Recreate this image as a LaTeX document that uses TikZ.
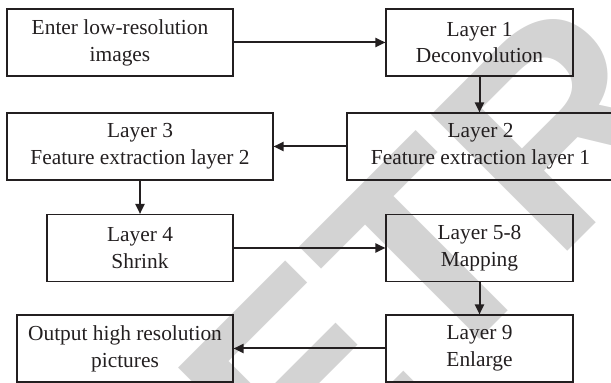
\documentclass[tikz,border=0pt]{standalone}
\usepackage{fontspec}
\setmainfont{Liberation Serif}
\newfontfamily\wmfont{Liberation Sans}
\usetikzlibrary{arrows.meta}
\definecolor{wmgray}{HTML}{D3D3D3}
\definecolor{linegray}{HTML}{231F20}

\begin{document}
\begin{tikzpicture}[x=0.5pt,y=-0.5pt]
  \tikzset{BoxStyle/.style   = {draw          = linegray,
                                text          = linegray,
                                line width    = 0.55pt,
                                align         = center,
                                inner sep     = 0pt,
                                minimum height= 33.5pt,
                                font          = \fontsize{10.7}{13.4}\selectfont}}
  \tikzset{ArrowStyle/.style = {draw          = linegray,
                                line width    = 1pt,
                                -{Triangle[length=5pt,width=4.5pt]}}}
  \tikzset{MarkStyle/.style  = {text          = wmgray,
                                inner sep     = 0pt,
                                rotate        = 45,
                                anchor        = base west,
                                font          = \wmfont\bfseries\fontsize{140}{140}\selectfont}}

\useasboundingbox (0,0) rectangle (611,383);

% watermark
\node[MarkStyle] (mark) at (158,661) {RETRACTED};

\node[BoxStyle, minimum width=113pt]   (in)  at (120,42.5)   {Enter low-resolution\\images};
\node[BoxStyle, minimum width=93.5pt]  (l1)  at (479.5,42.5) {Layer 1\\Deconvolution};
\node[BoxStyle, minimum width=133.5pt] (l2)  at (480.5,146.5) {Layer 2\\Feature extraction layer 1};
\node[BoxStyle, minimum width=133pt]   (l3)  at (140,146.5)  {Layer 3\\Feature extraction layer 2};
\node[BoxStyle, minimum width=93pt]    (l4)  at (140,248)    {Layer 4\\Shrink};
\node[BoxStyle, minimum width=93.5pt]  (l58) at (479.5,248)  {Layer 5-8\\Mapping};
\node[BoxStyle, minimum width=93.5pt]  (l9)  at (479.5,348.5) {Layer 9\\Enlarge};
\node[BoxStyle, minimum width=108pt]   (out) at (125,348.5)  {Output high resolution\\pictures};

\draw[ArrowStyle] (in)  -- (l1);
\draw[ArrowStyle] (l1.south) -- (l1.south |- l2.north);
\draw[ArrowStyle] (l2.west |- l3) -- (l3);
\draw[ArrowStyle] (l3)  -- (l4);
\draw[ArrowStyle] (l4)  -- (l58);
\draw[ArrowStyle] (l58) -- (l9);
\draw[ArrowStyle] (l9)  -- (out.east |- l9);
\end{tikzpicture}
\end{document}
